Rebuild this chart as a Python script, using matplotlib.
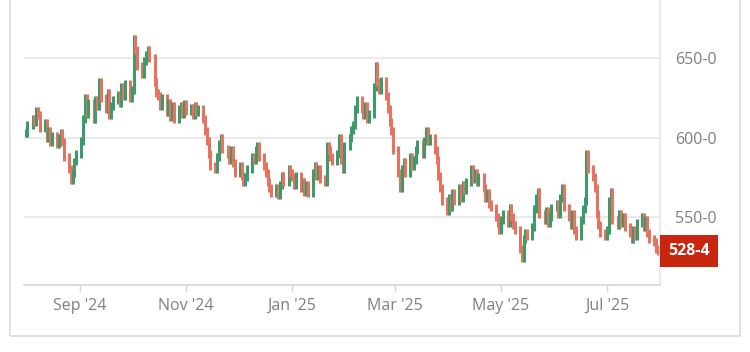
import matplotlib
matplotlib.use("Agg")
import matplotlib.pyplot as plt
import matplotlib.dates as mdates
from matplotlib.patches import Rectangle
import pandas as pd

# daily closes (cents/bu), Aug 2024 - Jul 2025
closes = [
    603, 608, 612, 610, 617, 614, 606, 609, 600, 604, 597, 601,
    596, 600, 603, 597, 588, 580, 573, 578, 585, 590, 598, 612,
    625, 615, 622, 612, 624, 620, 635, 625, 618, 628, 614, 620,
    624, 627, 622, 632, 626, 634, 625, 630, 662, 655, 645, 640,
    648, 652, 655, 650, 635, 628, 626, 620, 625, 616, 622, 613,
    620, 612, 618, 620, 615, 621, 617, 619, 614, 620, 616, 618,
    612, 604, 598, 590, 582, 580, 588, 596, 600, 593, 590, 586,
    592, 584, 578, 582, 576, 572, 575, 580, 588, 586, 592, 595,
    588, 582, 578, 572, 568, 565, 568, 564, 570, 576, 572, 580,
    578, 575, 570, 576, 568, 572, 566, 570, 565, 578, 582, 576,
    580, 574, 572, 595, 592, 588, 585, 590, 600, 586, 580, 595,
    600, 605, 608, 618, 624, 618, 614, 620, 612, 615, 632, 645,
    635, 630, 636, 626, 618, 610, 604, 592, 578, 568, 580, 585,
    578, 588, 582, 586, 592, 596, 590, 598, 604, 598, 600, 592,
    586, 576, 568, 560, 554, 562, 556, 565, 560, 568, 562, 570,
    567, 572, 580, 574, 578, 572, 575, 568, 562, 565, 558, 556,
    550, 546, 542, 548, 552, 546, 556, 550, 545, 542, 530, 524,
    536, 540, 538, 544, 555, 562, 566, 552, 548, 554, 546, 550,
    556, 558, 552, 562, 568, 556, 550, 545, 552, 542, 538, 548,
    555, 560, 590, 580, 575, 568, 552, 545, 540, 538, 542, 560,
    566, 548, 545, 552, 546, 550, 544, 540, 536, 542, 538, 546,
    550, 544, 548, 540, 536, 534, 530, 528.5,
]
opens = [closes[0]] + closes[:-1]
dates = pd.bdate_range("2024-08-01", periods=len(closes))

last_price = closes[-1]
price_ticks = [550, 600, 650]
month_ticks = ["2024-09-01", "2024-11-01", "2025-01-01", "2025-03-01", "2025-05-01", "2025-07-01"]

up_col = "#3d9a6b"
down_col = "#e57361"
grid_col = "#e6e6e6"
txt_col = "#7f7f7f"


def fmt_price(v, pos=None):
    whole = int(v)
    eighths = int(round((v - whole) * 8))
    return f"{whole}-{eighths}"


fig = plt.figure(figsize=(7.5, 3.52), dpi=100)
plt.rcParams["font.family"] = ["Open Sans", "DejaVu Sans"]

# outer frame
fig.patches.append(Rectangle((10 / 750, 16 / 352), 730 / 750, 340 / 352,
                             transform=fig.transFigure, fill=False,
                             edgecolor="#dcdcdc", linewidth=1.2))

ax = fig.add_axes([24 / 750, 67 / 352, 636 / 750, 285 / 352])

x = mdates.date2num(dates)
for xi, o, c in zip(x, opens, closes):
    col = up_col if c >= o else down_col
    lo, hi = min(o, c), max(o, c)
    ax.vlines(xi, lo - 2.5, hi + 2.5, color=col, linewidth=2.2)

ax.set_ylim(507.2, 686.7)
ax.set_xlim(mdates.date2num(pd.Timestamp("2024-07-31")),
            mdates.date2num(pd.Timestamp("2025-07-31 08:00")))

ax.yaxis.tick_right()
ax.set_yticks(price_ticks)
ax.yaxis.set_major_formatter(plt.FuncFormatter(fmt_price))
ax.tick_params(axis="y", length=0, pad=11, labelsize=11.5, labelcolor=txt_col)
ax.grid(axis="y", color=grid_col, linewidth=1.2)

ax.set_xticks(mdates.date2num(pd.to_datetime(month_ticks)))
ax.xaxis.set_major_formatter(mdates.DateFormatter("%b '%y"))
ax.tick_params(axis="x", length=5, width=1, color="#d6d6d6", pad=4.5,
               labelsize=11.5, labelcolor=txt_col)

for s in ["top", "left"]:
    ax.spines[s].set_visible(False)
ax.spines["bottom"].set_color("#d6d6d6")
ax.spines["right"].set_color("#e6e6e6")
ax.spines["bottom"].set_linewidth(1.2)
ax.spines["right"].set_linewidth(1.2)
ax.set_axisbelow(True)

# last price tag
ax.annotate(fmt_price(last_price), xy=(1.0, last_price),
            xycoords=("axes fraction", "data"),
            xytext=(6, 0), textcoords="offset points",
            ha="left", va="center", color="white", fontsize=11.5,
            fontweight="bold",
            bbox=dict(boxstyle="square,pad=0.5", fc="#c9260f", ec="none"))

fig.savefig("out.png", dpi=100)
